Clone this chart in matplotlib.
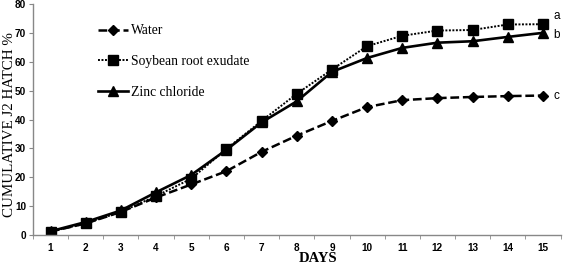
import matplotlib
matplotlib.use("Agg")
import matplotlib.pyplot as plt

days = list(range(1, 16))
water = [1.2, 4.0, 8.0, 13.0, 17.5, 22.1, 28.8, 34.4, 39.5, 44.3, 46.7, 47.4, 47.8, 48.1, 48.3]
soybean = [1.2, 4.0, 8.0, 13.5, 19.5, 29.8, 39.5, 48.9, 57.3, 65.4, 69.0, 70.8, 71.0, 72.9, 73.0]
zinc = [1.3, 4.5, 8.5, 14.8, 20.8, 29.5, 39.0, 46.3, 56.5, 61.3, 64.8, 66.6, 67.1, 68.6, 70.0]
letters = ["c", "a", "b"]
letter_y = [48.2, 75.9, 69.3]
labels = ["Water", "Soybean root exudate", "Zinc chloride"]

fig = plt.figure(figsize=(5.63, 2.66), dpi=100)
ax = fig.add_axes([0.0586, 0.1165, 0.937, 0.8685])

ax.plot(days, water, color="black", lw=1.8, ls=(0, (3.5, 1.5)), marker="D", ms=5.5, label=labels[0])
ax.plot(days, soybean, color="black", lw=1.4, ls=(0, (1, 0.8)), marker="s", ms=7.5, label=labels[1])
ax.plot(days, zinc, color="black", lw=1.9, ls="-", marker="^", ms=7.5, label=labels[2])

for y, t in zip(letter_y, letters):
    ax.text(15.3, y, t, fontsize=8.5, family="Liberation Sans", va="center", ha="left", clip_on=False)

ax.set_xlim(0.5, 15.5)
ax.set_ylim(0, 80)
ax.set_xticks(days)
ax.set_xticks([d + 0.5 for d in range(0, 16)], minor=True)
ax.tick_params(axis="x", which="major", length=0, pad=6)
ax.tick_params(axis="x", which="minor", length=3, color="#888888")
ax.tick_params(axis="y", length=3, color="#888888", pad=2)
ax.set_yticks(range(0, 81, 10))
for lab in ax.get_xticklabels() + ax.get_yticklabels():
    lab.set_fontfamily("Liberation Sans")
    lab.set_fontweight("bold")
    lab.set_fontsize(7.2)

for s in ["top", "right"]:
    ax.spines[s].set_visible(False)
for s in ["left", "bottom"]:
    ax.spines[s].set_color("#888888")
    ax.spines[s].set_linewidth(1.0)

ax.set_xlabel("DAYS", family="Liberation Serif", fontweight="bold", fontsize=10.5)
ax.xaxis.set_label_coords(0.54, -0.103, transform=ax.transAxes)
ax.xaxis.label.set_va("center")
ax.set_ylabel("CUMULATIVE J2 HATCH %", family="Liberation Serif", fontsize=10.8)
ax.yaxis.set_label_coords(-0.045, 0.48, transform=ax.transAxes)
ax.yaxis.label.set_va("center")

leg = ax.legend(loc="upper left", bbox_to_anchor=(0.1, 0.965), frameon=False,
                prop={"family": "Liberation Serif", "size": 9.8},
                handlelength=2.2, handletextpad=0.2, labelspacing=1.3)

fig.savefig("out.png", dpi=100)
